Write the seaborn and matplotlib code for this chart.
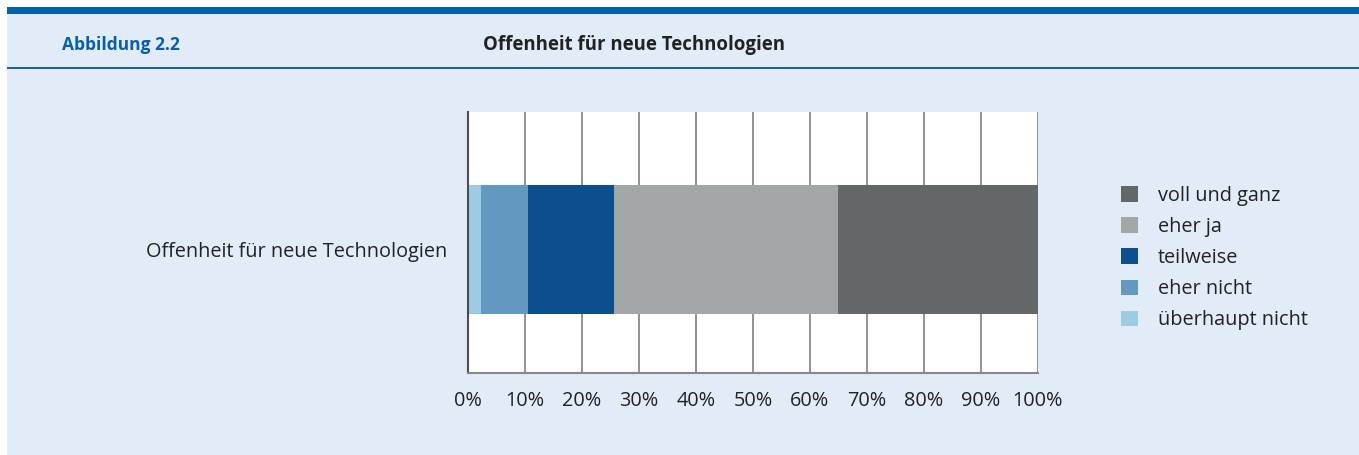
import matplotlib
matplotlib.use("Agg")
import matplotlib.pyplot as plt
import matplotlib.patches as mpatches
import seaborn as sns
import numpy as np

# ---- data ----
category = "Offenheit für neue Technologien"
series_labels = ["überhaupt nicht", "eher nicht", "teilweise", "eher ja", "voll und ganz"]
series_values = [2.3, 8.2, 15.1, 39.3, 35.1]
series_colors = ["#9CCBE3", "#6399C0", "#0B4F8F", "#A3A6A7", "#636768"]
tick_values = [0, 10, 20, 30, 40, 50, 60, 70, 80, 90, 100]
tick_labels = [f"{v}%" for v in tick_values]
header_left = "Abbildung 2.2"
header_title = "Offenheit für neue Technologien"

sns.set_theme(style="white")
plt.rcParams['font.family'] = ['Open Sans', 'DejaVu Sans']

W, H = 1359, 455
fig = plt.figure(figsize=(W / 100, H / 100), dpi=100)
fig.patch.set_facecolor("white")

# background panel
panel_bg = "#E1ECF8"
fig.patches.append(mpatches.Rectangle((7 / W, 0), 1 - 7 / W, 1 - 7 / H, transform=fig.transFigure,
                                      facecolor=panel_bg, edgecolor="none", zorder=-10))
fig.patches.append(mpatches.Rectangle((7 / W, 1 - 14 / H), 1 - 7 / W, 7 / H, transform=fig.transFigure,
                                      facecolor="#0561AE", edgecolor="none", zorder=-9))
fig.patches.append(mpatches.Rectangle((7 / W, 1 - 68.5 / H), 1 - 7 / W, 1.6 / H, transform=fig.transFigure,
                                      facecolor="#1F5FA0", edgecolor="none", zorder=-9))

fig.text(62 / W, 1 - 45 / H, header_left, color="#0A5FA8", fontsize=12.5, fontweight="bold",
         ha="left", va="center")
fig.text(483 / W, 1 - 45 / H, header_title, color="#222222", fontsize=13.4, fontweight="bold",
         ha="left", va="center")

ax = fig.add_axes([468 / W, 1 - 373 / H, 570 / W, 261 / H])
ax.set_facecolor("white")

# stacked bars via cumulative overlay (widest first)
cum = np.cumsum(series_values)
for i in reversed(range(len(series_values))):
    sns.barplot(x=[cum[i]], y=[category], color=series_colors[i], orient="h",
                width=1.0, ax=ax, saturation=1, zorder=2, linewidth=0, edgecolor="none")

ax.set_xlim(0, 100)
ax.set_ylim(0.957, -1.066)
ax.set_xticks(tick_values)
ax.set_xticklabels(tick_labels)
ax.set_xlabel("")
ax.set_ylabel("")
ax.set_axisbelow(True)
ax.xaxis.grid(True, color="#7F7F7F", linewidth=1.2, zorder=0)
ax.yaxis.grid(False)
ax.tick_params(axis="x", length=0, pad=13, labelsize=14.3, labelcolor="#222222")
ax.tick_params(axis="y", length=0, pad=15, labelsize=14.3, labelcolor="#222222")
for s in ["top", "right"]:
    ax.spines[s].set_visible(False)
ax.spines["left"].set_color("#4D4D4D")
ax.spines["left"].set_linewidth(1.5)
ax.spines["bottom"].set_color("#888888")
ax.spines["bottom"].set_linewidth(1.5)

handles = [mpatches.Patch(facecolor=series_colors[i], edgecolor="none", label=series_labels[i])
           for i in reversed(range(len(series_labels)))]
leg = fig.legend(handles=handles, loc="upper left", bbox_to_anchor=(1113 / W, 1 - 178 / H),
                 frameon=False, fontsize=14.3, handlelength=0.85, handleheight=0.85,
                 handletextpad=1.0, labelspacing=0.56, borderaxespad=0)
for t in leg.get_texts():
    t.set_color("#222222")

fig.savefig("out.png", dpi=100, facecolor=fig.get_facecolor())
